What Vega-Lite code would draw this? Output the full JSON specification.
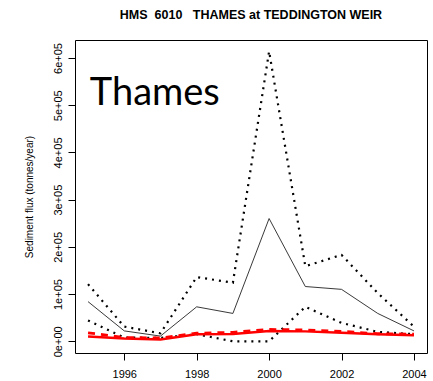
{
  "$schema": "https://vega.github.io/schema/vega-lite/v6.json",
  "autosize": "none",
  "width": 352,
  "height": 313,
  "padding": {"left": 75, "top": 40, "right": 6, "bottom": 28},
  "background": "white",
  "title": {
    "text": "HMS\u00a0 6010\u00a0\u00a0 THAMES at TEDDINGTON WEIR",
    "font": "Liberation Sans",
    "fontSize": 12.5,
    "fontWeight": "bold",
    "color": "black",
    "anchor": "middle",
    "offset": 19
  },
  "config": {
    "view": {"stroke": "black", "strokeWidth": 1},
    "axis": {
      "domain": false,
      "grid": false,
      "tickColor": "black",
      "tickSize": 7,
      "labelColor": "black",
      "labelFont": "Liberation Sans",
      "labelFontSize": 11,
      "titleFont": "Liberation Sans",
      "titleFontWeight": "normal",
      "titleColor": "black"
    }
  },
  "data": {
    "values": [
      {"year": 1995, "series": "upper", "value": 121000},
      {"year": 1996, "series": "upper", "value": 31000},
      {"year": 1997, "series": "upper", "value": 17000},
      {"year": 1998, "series": "upper", "value": 136000},
      {"year": 1999, "series": "upper", "value": 124000},
      {"year": 2000, "series": "upper", "value": 614000},
      {"year": 2001, "series": "upper", "value": 159000},
      {"year": 2002, "series": "upper", "value": 183000},
      {"year": 2003, "series": "upper", "value": 102000},
      {"year": 2004, "series": "upper", "value": 31000},
      {"year": 1995, "series": "mean", "value": 84000},
      {"year": 1996, "series": "mean", "value": 22000},
      {"year": 1997, "series": "mean", "value": 11000},
      {"year": 1998, "series": "mean", "value": 73000},
      {"year": 1999, "series": "mean", "value": 59000},
      {"year": 2000, "series": "mean", "value": 260000},
      {"year": 2001, "series": "mean", "value": 116000},
      {"year": 2002, "series": "mean", "value": 110000},
      {"year": 2003, "series": "mean", "value": 59000},
      {"year": 2004, "series": "mean", "value": 22000},
      {"year": 1995, "series": "lower", "value": 44000},
      {"year": 1996, "series": "lower", "value": 8000},
      {"year": 1997, "series": "lower", "value": 7000},
      {"year": 1998, "series": "lower", "value": 15000},
      {"year": 1999, "series": "lower", "value": 0},
      {"year": 2000, "series": "lower", "value": 0},
      {"year": 2001, "series": "lower", "value": 73000},
      {"year": 2002, "series": "lower", "value": 39000},
      {"year": 2003, "series": "lower", "value": 20000},
      {"year": 2004, "series": "lower", "value": 15000},
      {"year": 1995, "series": "red_solid", "value": 10000},
      {"year": 1996, "series": "red_solid", "value": 6000},
      {"year": 1997, "series": "red_solid", "value": 4000},
      {"year": 1998, "series": "red_solid", "value": 15000},
      {"year": 1999, "series": "red_solid", "value": 15500},
      {"year": 2000, "series": "red_solid", "value": 22000},
      {"year": 2001, "series": "red_solid", "value": 21000},
      {"year": 2002, "series": "red_solid", "value": 18000},
      {"year": 2003, "series": "red_solid", "value": 15000},
      {"year": 2004, "series": "red_solid", "value": 13000},
      {"year": 1995, "series": "red_dash", "value": 18000},
      {"year": 1996, "series": "red_dash", "value": 8000},
      {"year": 1997, "series": "red_dash", "value": 7000},
      {"year": 1998, "series": "red_dash", "value": 17000},
      {"year": 1999, "series": "red_dash", "value": 19000},
      {"year": 2000, "series": "red_dash", "value": 25000},
      {"year": 2001, "series": "red_dash", "value": 24000},
      {"year": 2002, "series": "red_dash", "value": 21000},
      {"year": 2003, "series": "red_dash", "value": 16000},
      {"year": 2004, "series": "red_dash", "value": 15000}
    ]
  },
  "encoding": {
    "x": {
      "field": "year", "type": "quantitative",
      "scale": {"domain": [1994.64, 2004.36], "nice": false, "zero": false},
      "axis": {"values": [1996, 1998, 2000, 2002, 2004], "title": null, "format": "d", "labelPadding": 8}
    },
    "y": {
      "field": "value", "type": "quantitative",
      "scale": {"domain": [-24800, 638100], "nice": false, "zero": false},
      "axis": {
        "values": [0, 100000, 200000, 300000, 400000, 500000, 600000],
        "labelExpr": "replace(format(datum.value, '.0e'), 'e+', 'e+0')",
        "labelAngle": -90,
        "labelAlign": "center",
        "labelBaseline": "bottom",
        "labelPadding": 5,
        "title": "Sediment flux (tonnes/year)",
        "titleFontSize": 10,
        "titlePadding": 18
      }
    }
  },
  "layer": [
    {
      "transform": [{"filter": "datum.series === 'upper' || datum.series === 'lower'"}],
      "mark": {"type": "line", "clip": true, "color": "black", "strokeWidth": 2.2, "strokeDash": [2, 5]},
      "encoding": {"detail": {"field": "series"}}
    },
    {
      "transform": [{"filter": "datum.series === 'mean'"}],
      "mark": {"type": "line", "clip": true, "color": "#222222", "strokeWidth": 0.9}
    },
    {
      "transform": [{"filter": "datum.series === 'red_dash'"}],
      "mark": {"type": "line", "clip": true, "color": "#ff0000", "strokeWidth": 2.8, "strokeDash": [7, 6]}
    },
    {
      "transform": [{"filter": "datum.series === 'red_solid'"}],
      "mark": {"type": "line", "clip": true, "color": "#ff0000", "strokeWidth": 2.5}
    },
    {
      "data": {"values": [{"year": 1995.05, "value": 500000, "label": "Thames"}]},
      "mark": {"type": "text", "font": "Lato", "fontSize": 38, "align": "left", "baseline": "alphabetic", "color": "black"},
      "encoding": {
        "text": {"field": "label"}
      }
    }
  ]
}
